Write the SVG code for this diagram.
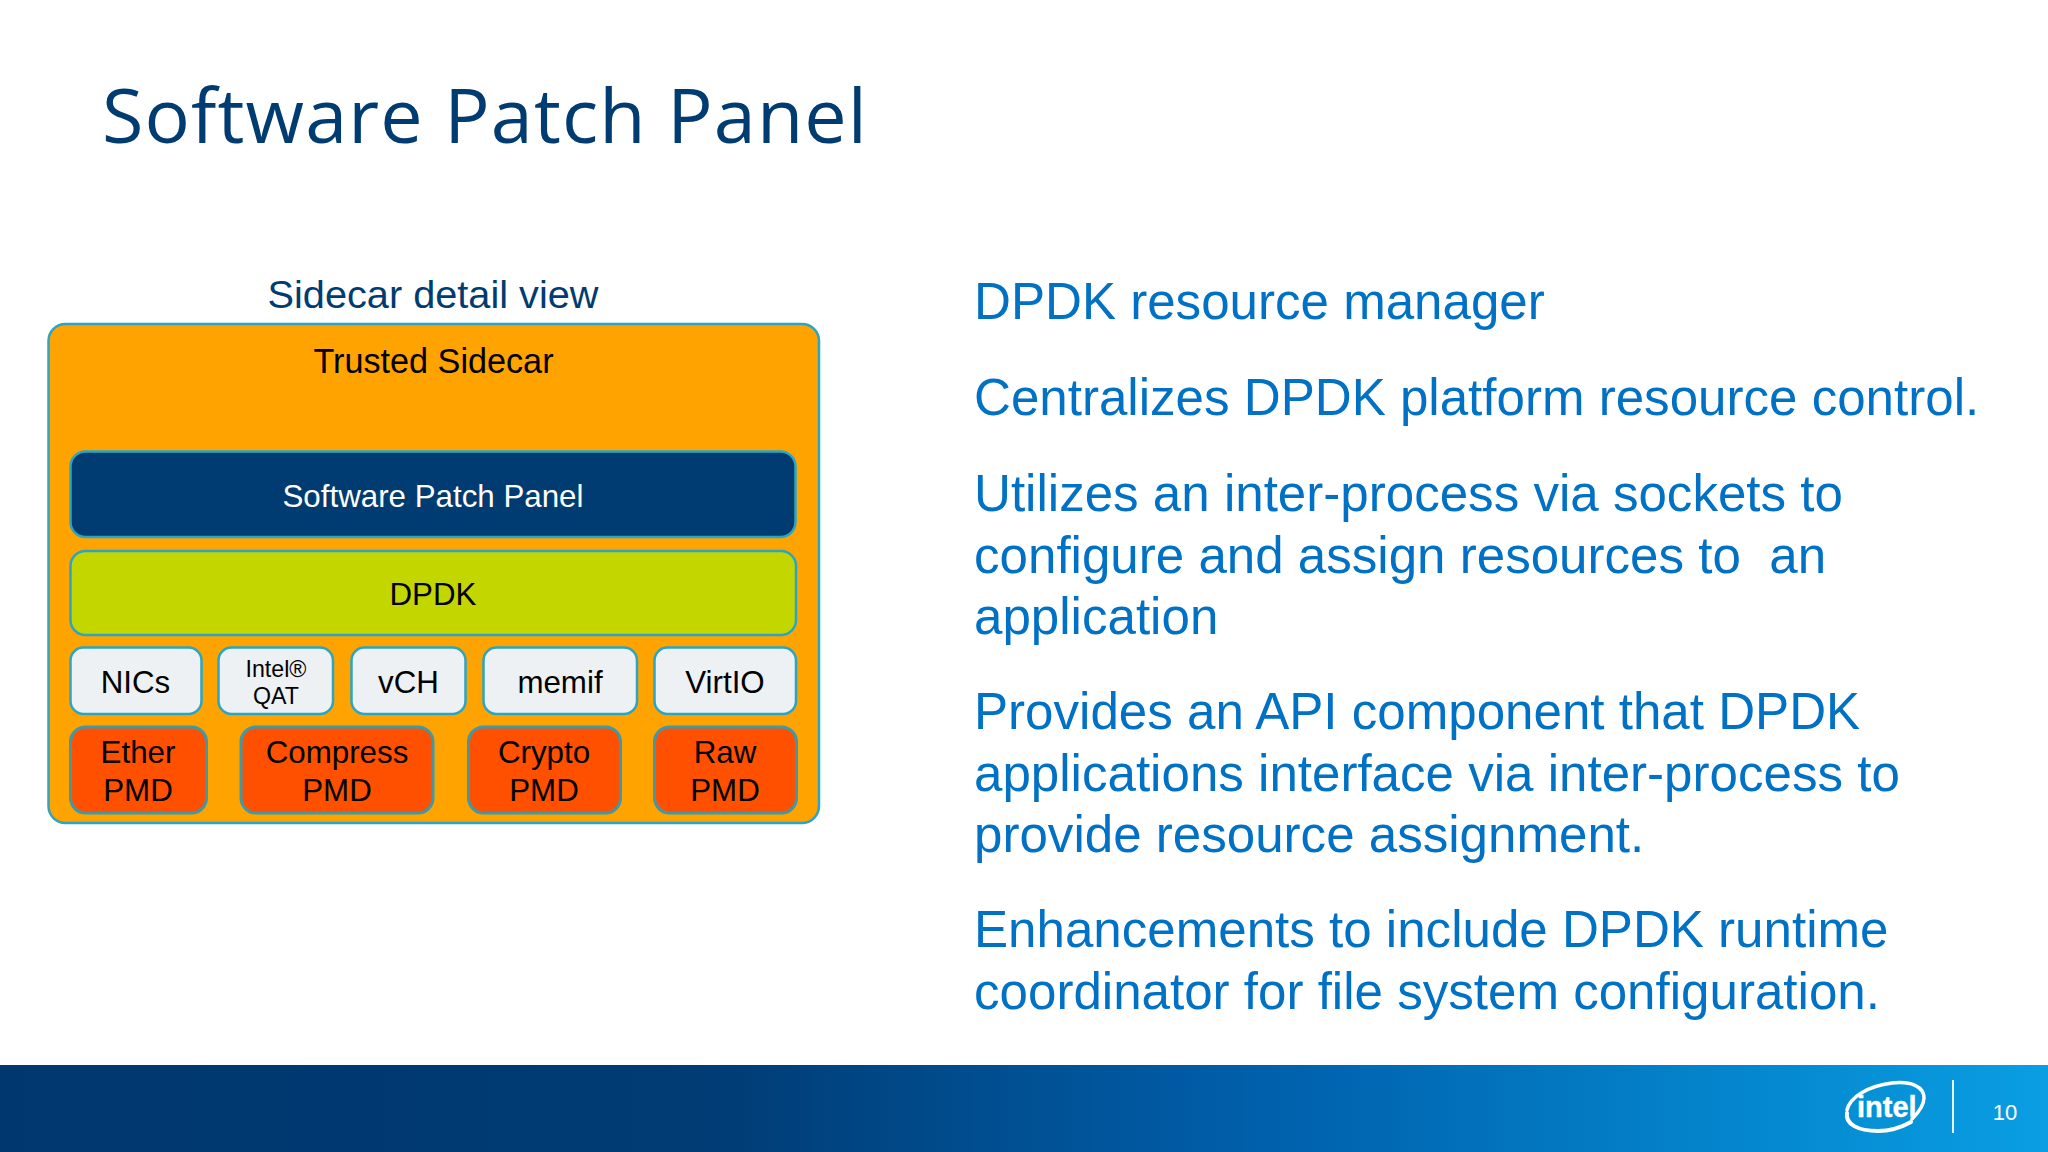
<svg xmlns="http://www.w3.org/2000/svg" width="2048" height="1152" viewBox="0 0 2048 1152">
<style>
text{font-family:"Liberation Sans",Arial,sans-serif}
.box{stroke:#2aa6c4;stroke-width:2.5}
.w{fill:#eef1f4}
.o{fill:#ff5000;stroke:#3f99a8;stroke-width:3}
.c{text-anchor:middle;fill:#000;font-size:31.3px}
.b{fill:#0071c5;font-size:51.1px;white-space:pre}
.sw{fill:none;stroke:#fff;stroke-linecap:round}
</style>
<defs><linearGradient id="g" x1="0" y1="0" x2="1" y2="0"><stop offset="0" stop-color="#00376e"/><stop offset="0.35" stop-color="#003c75"/><stop offset="0.62" stop-color="#0060ac"/><stop offset="0.88" stop-color="#058bd2"/><stop offset="1" stop-color="#0a9ee2"/></linearGradient></defs>
<rect width="2048" height="1152" fill="#fff"/>
<text x="102" y="143" font-size="75.500" letter-spacing="1.1" fill="#003c71" style="font-family:'Open Sans',sans-serif">Software Patch Panel</text>
<text x="433" y="307.500" text-anchor="middle" font-size="39.700" fill="#003c71">Sidecar detail view</text>
<g id="trusted-sidecar"><rect class="box" x="48.500" y="324" width="770.500" height="499" rx="17" fill="#ffa300"/><text class="c" x="433.500" y="373" style="font-size:34.200px">Trusted Sidecar</text></g>
<g id="software-patch-panel"><rect class="box" x="70.500" y="451.500" width="725" height="85.500" rx="15" fill="#003c71"/><text class="c" x="433" y="507" style="fill:#fff">Software Patch Panel</text></g>
<g id="dpdk"><rect class="box" x="70.500" y="551" width="725.500" height="84" rx="15" fill="#c4d600"/><text class="c" x="433" y="605">DPDK</text></g>
<g id="nics"><rect class="box w" x="70.500" y="647.500" width="131" height="66.500" rx="13"/><text class="c" x="135.500" y="693">NICs</text></g>
<g id="qat"><rect class="box w" x="218.500" y="647.500" width="114.500" height="66.500" rx="13"/><text class="c" x="276" y="677" style="font-size:23.200px">Intel®</text><text class="c" x="276" y="704" style="font-size:23.200px">QAT</text></g>
<g id="vch"><rect class="box w" x="351.500" y="647.500" width="114" height="66.500" rx="13"/><text class="c" x="408.500" y="693">vCH</text></g>
<g id="memif"><rect class="box w" x="483.500" y="647.500" width="153.500" height="66.500" rx="13"/><text class="c" x="560" y="693">memif</text></g>
<g id="virtio"><rect class="box w" x="654.500" y="647.500" width="141.500" height="66.500" rx="13"/><text class="c" x="725" y="693">VirtIO</text></g>
<g id="ether-pmd"><rect class="o" x="70.500" y="727" width="136" height="86" rx="15"/><text class="c" x="138" y="763">Ether</text><text class="c" x="138" y="801">PMD</text></g>
<g id="compress-pmd"><rect class="o" x="241" y="727" width="192" height="86" rx="15"/><text class="c" x="337" y="763">Compress</text><text class="c" x="337" y="801">PMD</text></g>
<g id="crypto-pmd"><rect class="o" x="468.500" y="727" width="152" height="86" rx="15"/><text class="c" x="544" y="763">Crypto</text><text class="c" x="544" y="801">PMD</text></g>
<g id="raw-pmd"><rect class="o" x="654.500" y="727" width="142" height="86" rx="15"/><text class="c" x="725" y="763">Raw</text><text class="c" x="725" y="801">PMD</text></g>
<g id="connectors"></g>
<text class="b" x="974" y="319">DPDK resource manager</text>
<text class="b" x="974" y="415">Centralizes DPDK platform resource control.</text>
<text class="b" x="974" y="511">Utilizes an inter-process via sockets to</text>
<text class="b" x="974" y="572.500">configure and assign resources to  an</text>
<text class="b" x="974" y="634">application</text>
<text class="b" x="974" y="729">Provides an API component that DPDK</text>
<text class="b" x="974" y="790.500">applications interface via inter-process to</text>
<text class="b" x="974" y="852">provide resource assignment.</text>
<text class="b" x="974" y="947">Enhancements to include DPDK runtime</text>
<text class="b" x="974" y="1008.500">coordinator for file system configuration.</text>
<rect y="1065" width="2048" height="87" fill="url(#g)"/>
<g id="logo"><path class="sw" stroke-width="3.500" d="M1847 1110C1850 1097 1868 1086 1892 1083C1912 1081 1924 1087 1924 1098C1924 1106 1918 1113 1912 1119"/><path class="sw" stroke-width="4" d="M1847 1113C1845 1124 1858 1131 1878 1131C1890 1131 1902 1127 1911 1122"/><text x="1857" y="1117" font-size="29" font-weight="700" fill="#fff" stroke="#fff" stroke-width="0.400">intel</text></g>
<rect x="1952" y="1080" width="2" height="53" fill="#fff" opacity="0.9"/>
<text x="2005" y="1120" text-anchor="middle" font-size="22" fill="#fff">10</text>
</svg>
